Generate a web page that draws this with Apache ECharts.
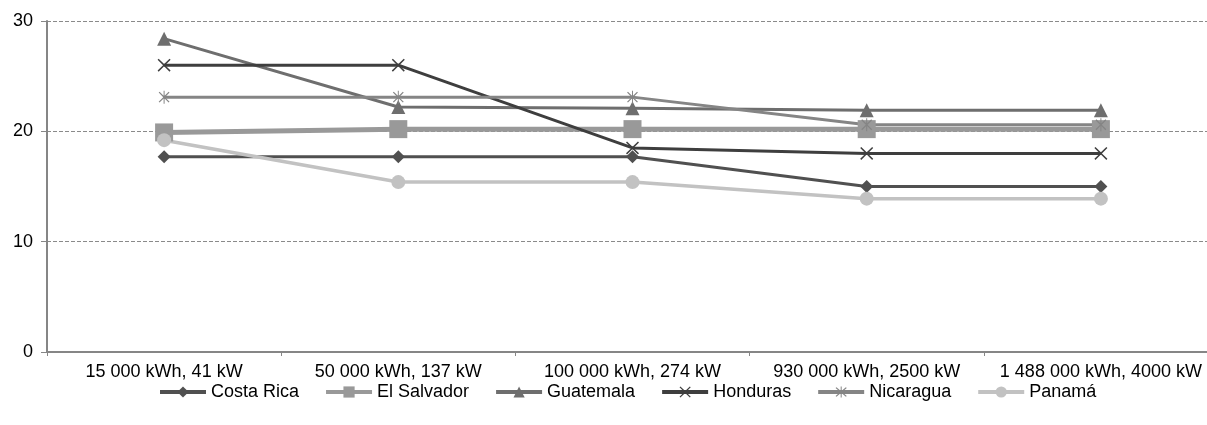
<!DOCTYPE html>
<html>
<head>
<meta charset="utf-8">
<script src="https://cdn.jsdelivr.net/npm/echarts@6/dist/echarts.min.js"></script>
<style>
html,body{margin:0;padding:0;background:#fff;overflow:hidden;width:1207px;height:425px;}
#chart{width:1220px;height:425px;}
</style>
</head>
<body>
<div id="chart"></div>
<script>
const categories = ['15 000 kWh, 41 kW', '50 000 kWh, 137 kW', '100 000 kWh, 274 kW', '930 000 kWh, 2500 kW', '1 488 000 kWh, 4000 kW'];
const costaRica  = [17.7, 17.7, 17.7, 15.0, 15.0];
const elSalvador = [19.9, 20.2, 20.2, 20.2, 20.2];
const guatemala  = [28.4, 22.2, 22.1, 21.9, 21.9];
const honduras   = [26.0, 26.0, 18.5, 18.0, 18.0];
const nicaragua  = [23.1, 23.1, 23.1, 20.6, 20.6];
const panama     = [19.2, 15.4, 15.4, 13.9, 13.9];
const yTicks = [0, 10, 20, 30];

const xPath = 'path://M0,1.6 L1.6,0 L10,8.4 L18.4,0 L20,1.6 L11.6,10 L20,18.4 L18.4,20 L10,11.6 L1.6,20 L0,18.4 L8.4,10 Z';
const astPath = 'path://M0,1.6 L1.6,0 L10,8.4 L18.4,0 L20,1.6 L11.6,10 L20,18.4 L18.4,20 L10,11.6 L1.6,20 L0,18.4 L8.4,10 Z M9.1,-2 L10.9,-2 L10.9,22 L9.1,22 Z';

function mk(name, data, color, width, symbol, size) {
  return {
    name: name, type: 'line', data: data,
    symbol: symbol, symbolSize: size, symbolKeepAspect: true,
    lineStyle: { color: color, width: width },
    itemStyle: { color: color },
    emphasis: { disabled: true },
    animation: false
  };
}

const chart = echarts.init(document.getElementById('chart'), null, { renderer: 'canvas' });
chart.setOption({
  backgroundColor: '#ffffff',
  animation: false,
  textStyle: { fontFamily: 'Liberation Sans, Arial, sans-serif' },
  grid: { left: 47, right: 2, top: 21, bottom: 73, containLabel: false },
  legend: {
    left: 153, top: 378,
    itemWidth: 46, itemHeight: 14, itemGap: 25,
    lineStyle: { width: 4 },
    textStyle: { fontSize: 18, color: '#000', fontFamily: 'Liberation Sans, Arial, sans-serif' },
    data: ['Costa Rica', 'El Salvador', 'Guatemala', 'Honduras', 'Nicaragua', 'Panamá']
  },
  xAxis: {
    type: 'category', data: categories, boundaryGap: true,
    axisLine: { lineStyle: { color: '#868686', width: 2 } },
    axisTick: { show: true, length: 4, lineStyle: { color: '#868686', width: 1 } },
    axisLabel: { fontSize: 18, color: '#000', margin: 11, interval: 0 },
    splitLine: { show: false }
  },
  yAxis: {
    type: 'value', min: yTicks[0], max: yTicks[yTicks.length - 1], interval: 10,
    axisLine: { show: true, lineStyle: { color: '#868686', width: 2 } },
    axisTick: { show: true, length: 6, lineStyle: { color: '#868686', width: 1 } },
    axisLabel: { fontSize: 18, color: '#000', margin: 14 },
    splitLine: { show: true, lineStyle: { color: '#8a8a8a', width: 1, type: [4, 2] } }
  },
  series: [
    mk('Costa Rica', costaRica, '#505050', 3, 'diamond', 13),
    mk('El Salvador', elSalvador, '#999999', 5, 'rect', 18),
    mk('Guatemala', guatemala, '#6e6e6e', 3, 'triangle', 14),
    mk('Honduras', honduras, '#3e3e3e', 3, xPath, 13),
    mk('Nicaragua', nicaragua, '#858585', 3, astPath, 13),
    mk('Panamá', panama, '#c2c2c2', 3.5, 'circle', 14)
  ]
});
</script>
</body>
</html>
